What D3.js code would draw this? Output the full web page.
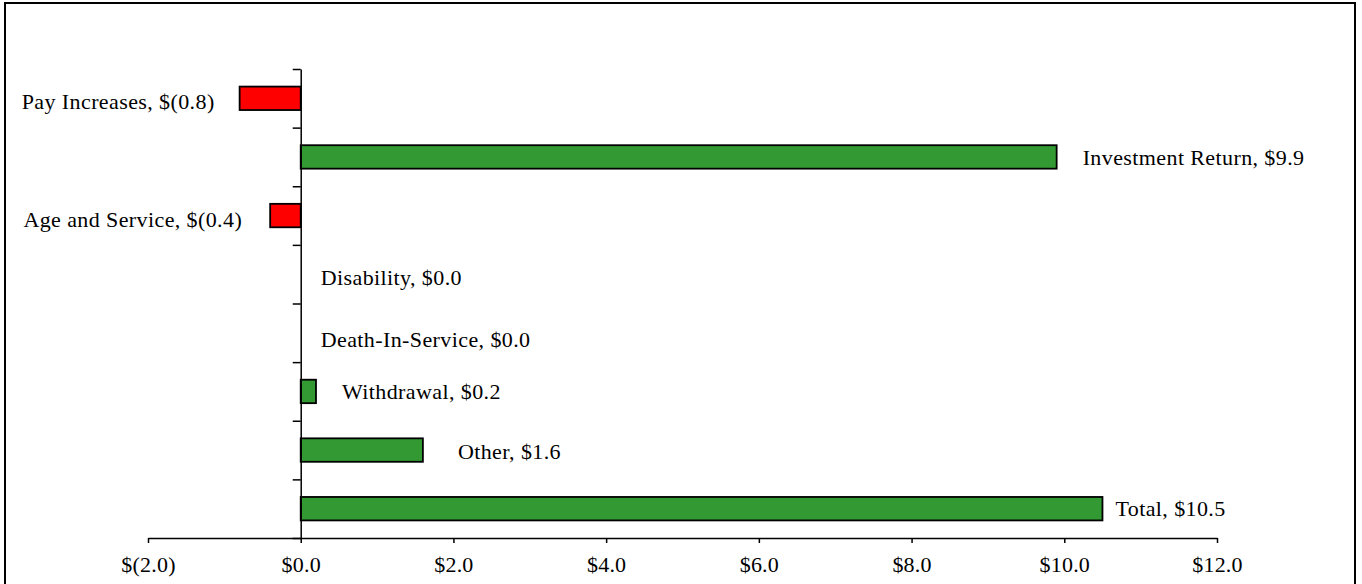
<!DOCTYPE html>
<html>
<head>
<meta charset="utf-8">
<script src="https://d3js.org/d3.v7.min.js"></script>
<style>
  html, body { margin: 0; padding: 0; background: #fff; }
  svg text { font-family: "Liberation Serif", "Times New Roman", serif; fill: #000; }
</style>
</head>
<body>
<script>
// datos del grafico
var categorias = ["Pay Increases", "Investment Return", "Age and Service", "Disability",
                  "Death-In-Service", "Withdrawal", "Other", "Total"];
var valores = [-0.8, 9.9, -0.4, 0.0, 0.0, 0.2, 1.6, 10.5];
var ticksX = [-2, 0, 2, 4, 6, 8, 10, 12];

// pequenos ajustes de las etiquetas (dx, dy en px)
var ajusteEtiqueta = [[1, 3], [0, 0], [-2, 3], [-6, 3], [-6, 6], [0, 0], [9, 1], [-13, -1]];

var width = 1362, height = 584;
var margin = { top: 69, bottom: 46, left: 148, right: 145 };

var svg = d3.select("body").append("svg")
    .attr("width", width)
    .attr("height", height);

// marco exterior
svg.append("rect")
    .attr("x", 5).attr("y", 3)
    .attr("width", 1350).attr("height", 600)
    .attr("fill", "none")
    .attr("stroke", "#000")
    .attr("stroke-width", 2);

var escalaX = d3.scaleLinear()
    .domain([-2, 12])
    .range([margin.left, width - margin.right]);

var escalaY = d3.scaleBand()
    .domain(categorias)
    .range([margin.top, height - margin.bottom])
    .paddingInner(0.6)
    .paddingOuter(0.3);

var formato = function (v) {
    var s = "$" + d3.format(".1f")(Math.abs(v));
    return v < 0 ? "$(" + d3.format(".1f")(Math.abs(v)) + ")" : s;
};

// barras
svg.selectAll("rect.barra")
    .data(valores)
    .join("rect")
    .attr("class", "barra")
    .attr("x", function (d) { return escalaX(Math.min(0, d)); })
    .attr("y", function (d, i) { return escalaY(categorias[i]); })
    .attr("width", function (d) { return Math.abs(escalaX(d) - escalaX(0)); })
    .attr("height", escalaY.bandwidth())
    .attr("fill", function (d) { return d < 0 ? "#ff0000" : "#339933"; })
    .attr("stroke", function (d) { return d === 0 ? "none" : "#000"; })
    .attr("stroke-width", 1.8);

// eje X
var ejeX = d3.axisBottom(escalaX)
    .tickValues(ticksX)
    .tickFormat(formato)
    .tickSize(5)
    .tickSizeOuter(0);

var gX = svg.append("g")
    .attr("transform", "translate(0," + (height - margin.bottom) + ")")
    .call(ejeX);
gX.select(".domain").attr("stroke-width", 1.5);
gX.selectAll(".tick line").attr("stroke-width", 1.5);
gX.selectAll(".tick text")
    .attr("y", 0).attr("dy", 0)
    .attr("transform", "translate(0,34)")
    .style("font-size", "22px")
    .style("letter-spacing", "0.2px");

// eje Y, marcas entre categorias
var escalaMarcas = d3.scaleLinear()
    .domain([0, categorias.length])
    .range([margin.top, height - margin.bottom]);

var gY = svg.append("g")
    .attr("transform", "translate(" + escalaX(0) + ",0)")
    .call(d3.axisLeft(escalaMarcas)
        .tickValues(d3.range(categorias.length + 1))
        .tickFormat("")
        .tickSize(8)
        .tickSizeOuter(0));
gY.select(".domain").attr("stroke-width", 1.5);
gY.selectAll(".tick line").attr("stroke-width", 1.5);

// etiquetas de las barras
svg.selectAll("text.etiqueta")
    .data(valores)
    .join("text")
    .attr("class", "etiqueta")
    .attr("x", function (d, i) {
        var base = d < 0 ? escalaX(d) - 26 : escalaX(d) + 26;
        return base + ajusteEtiqueta[i][0];
    })
    .attr("y", function (d, i) {
        return escalaY(categorias[i]) + escalaY.bandwidth() / 2 + 8 + ajusteEtiqueta[i][1];
    })
    .attr("text-anchor", function (d) { return d < 0 ? "end" : "start"; })
    .style("font-size", "22px")
    .style("letter-spacing", "0.4px")
    .text(function (d, i) { return categorias[i] + ", " + formato(d); });
</script>
</body>
</html>
